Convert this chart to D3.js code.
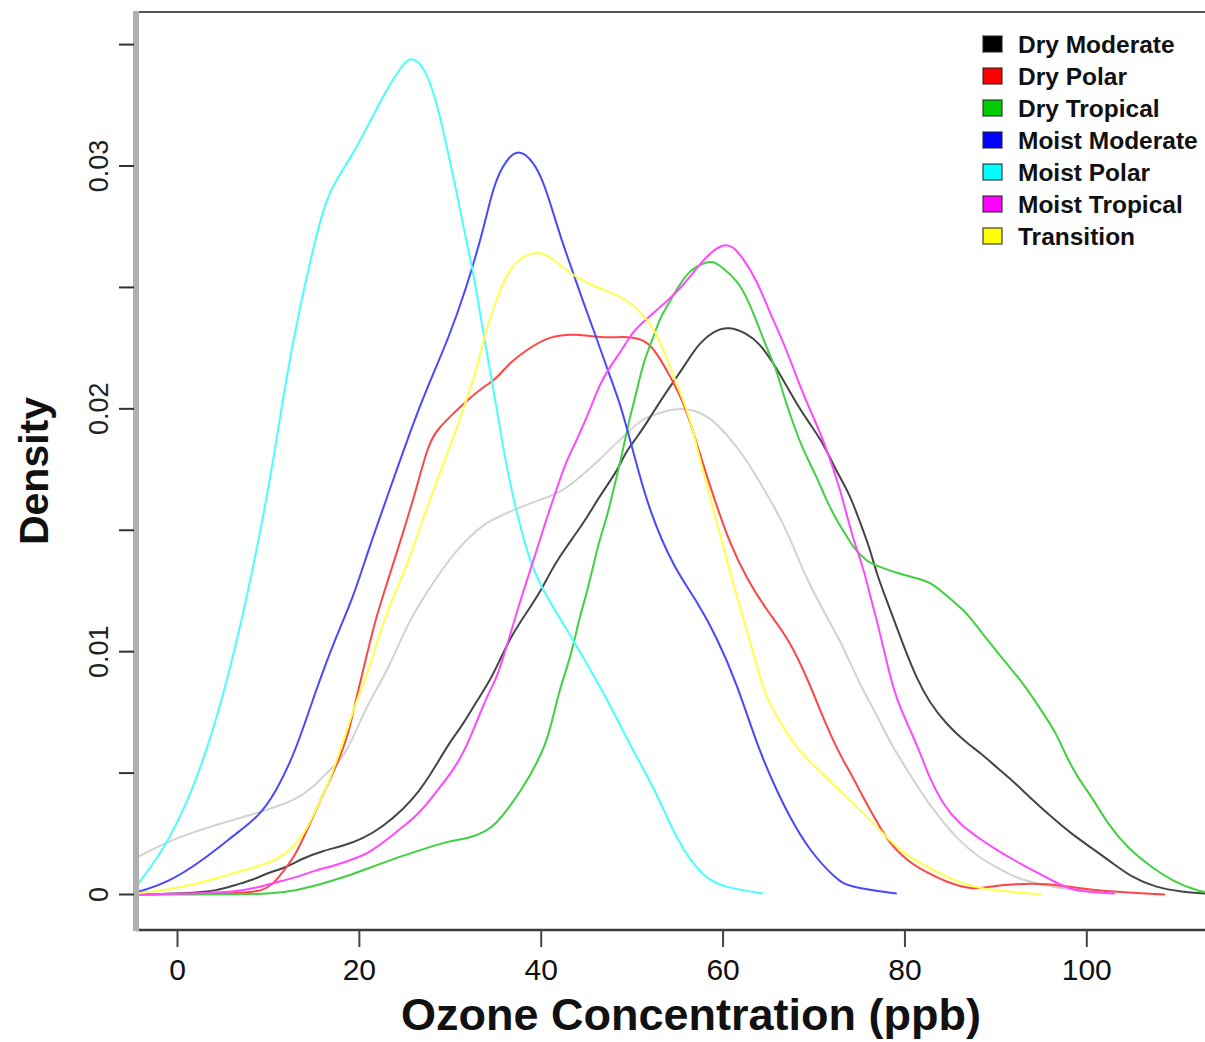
<!DOCTYPE html>
<html>
<head>
<meta charset="utf-8">
<script src="https://cdn.jsdelivr.net/npm/d3@7"></script>
<style>
  body { margin: 0; background: #fff; }
  svg { display: block; }
  text { font-family: "Liberation Sans", Arial, sans-serif; }
</style>
</head>
<body>
<div id="chart"></div>
<script>
// series names (legend order) and the unlabelled overall curve
var names = ["Dry Moderate", "Dry Polar", "Dry Tropical", "Moist Moderate", "Moist Polar", "Moist Tropical", "Transition"]
var xTicks = [0, 20, 40, 60, 80, 100]
var yTicks = [0, 0.005, 0.01, 0.015, 0.02, 0.025, 0.03, 0.035]
var yLabels = [0, 0.01, 0.02, 0.03]

// [ozone ppb, density]
var dryModerate = [[-4.6,0],[0.9,0.00004],[4.5,0.00016],[6.4,0.0004],[8.3,0.0006],[10,0.0009],[11.9,0.0011],[13.8,0.0015],[16,0.0018],[18.2,0.002],[20.4,0.0023],[22.6,0.0028],[24.8,0.0035],[26.5,0.0042],[28.1,0.0051],[29.8,0.0062],[31.4,0.007],[32.8,0.0079],[34.2,0.0087],[35.4,0.0096],[36.5,0.0105],[38,0.0114],[39.8,0.0124],[40.9,0.0132],[42,0.0139],[43.5,0.0147],[45,0.0155],[46.4,0.0164],[48.3,0.0174],[49.4,0.0183],[50.5,0.0188],[51.9,0.0196],[53.4,0.0205],[54.9,0.0213],[56.3,0.0221],[57.4,0.0227],[58.9,0.0232],[60.7,0.0234],[62.6,0.0231],[64,0.0227],[65.5,0.0219],[66.6,0.0212],[68.1,0.0202],[69.5,0.0194],[71,0.0186],[72.5,0.0174],[73.9,0.0165],[75,0.0154],[76.1,0.0143],[76.9,0.0132],[78,0.0121],[79.1,0.011],[80.2,0.0099],[81.3,0.0089],[82.7,0.0079],[84.6,0.007],[86.6,0.0063],[88.4,0.0058],[90.2,0.0052],[92.1,0.0046],[94,0.0039],[96.1,0.0032],[98.3,0.0025],[100.6,0.0019],[102.8,0.0013],[105,0.0007],[107.5,0.0003],[110.5,0.0001],[113,0.00004]]
var dryPolar = [[-4.6,0],[5.7,0.00004],[9.7,0.0001],[11.1,0.0007],[13,0.0016],[14.4,0.0028],[15.5,0.0037],[16.6,0.0046],[17.7,0.0055],[18.8,0.0066],[19.6,0.008],[20.4,0.0092],[21.8,0.0114],[23.2,0.013],[24.8,0.0149],[26.2,0.0166],[27.6,0.0186],[28.7,0.0192],[30.3,0.0198],[31.7,0.0203],[33.6,0.0209],[35,0.0212],[36.5,0.0219],[38.7,0.0225],[40.9,0.023],[43.9,0.0231],[46.8,0.0229],[49.7,0.023],[51.6,0.0228],[52.7,0.0223],[54.1,0.0214],[55.6,0.0203],[56.7,0.0191],[57.8,0.0177],[59.3,0.016],[60.7,0.0145],[62.6,0.013],[64.8,0.0117],[67.3,0.0105],[69.5,0.0087],[71.4,0.0069],[73.2,0.0055],[73.9,0.0051],[75.4,0.004],[76.9,0.003],[78.3,0.0021],[80.2,0.0014],[82.4,0.0009],[84.6,0.0005],[87.5,0.0002],[88.8,0.0003],[92.1,0.00045],[95.7,0.00045],[98.3,0.0003],[102,0.00012],[108.6,0]]
var dryTropical = [[-4.6,0],[6.4,0],[10.5,0.00004],[13,0.00016],[16,0.00045],[18.2,0.0007],[20.4,0.001],[22.6,0.0013],[24.8,0.0016],[27.3,0.0019],[29.8,0.0022],[32,0.0023],[33.9,0.0026],[35,0.0029],[36.5,0.0036],[38,0.0044],[39.5,0.0054],[40.6,0.0063],[41.3,0.0073],[42,0.0084],[42.8,0.0093],[43.5,0.0102],[44.2,0.0114],[45,0.0124],[45.7,0.0135],[46.4,0.0146],[47.2,0.0155],[47.9,0.0166],[49,0.0183],[49.7,0.0196],[50.5,0.0207],[51.2,0.0219],[52.3,0.0229],[53,0.0237],[54.1,0.0244],[55.2,0.0251],[56.3,0.0257],[57.8,0.026],[58.9,0.0261],[60,0.0258],[61.5,0.0253],[62.6,0.0246],[63.7,0.0236],[64.8,0.0225],[65.9,0.0216],[66.6,0.0206],[67.7,0.0194],[68.8,0.0183],[70.3,0.0172],[71.4,0.0162],[72.5,0.0154],[73.7,0.0147],[74.3,0.0143],[75.8,0.0137],[77.2,0.0135],[79.4,0.0132],[81.6,0.013],[83.1,0.0128],[84.9,0.0122],[86.8,0.0116],[88.2,0.0109],[89.7,0.0102],[91.2,0.0095],[93,0.0087],[94.8,0.0077],[96.7,0.0066],[97.6,0.0058],[99,0.0048],[100.6,0.004],[102.3,0.0029],[104.5,0.0019],[107.2,0.0011],[109.7,0.0005],[112.2,0.00016],[113,0.0001]]
var moistModerate = [[-4.4,0.0001],[-1,0.0005],[2.75,0.0014],[6.4,0.0025],[8.9,0.0032],[10.8,0.0042],[13,0.0059],[15.2,0.0084],[17.4,0.0106],[19.3,0.0122],[21,0.0142],[22.9,0.0162],[25.9,0.0194],[27.6,0.021],[29.8,0.0229],[31.7,0.0249],[33.6,0.0273],[34.8,0.0293],[36.2,0.0303],[37.6,0.0307],[39.1,0.0302],[40.2,0.0294],[41.3,0.0281],[42.2,0.027],[43.5,0.0256],[45,0.024],[46.1,0.0229],[47.3,0.0216],[48.6,0.0203],[49.5,0.0191],[50.5,0.0177],[51.9,0.0158],[54.5,0.0135],[57.1,0.0121],[59.3,0.0106],[61.5,0.0087],[63.7,0.0062],[65.5,0.0046],[67.3,0.0032],[69.5,0.0018],[72.5,0.0006],[73.9,0.0003],[79.1,0.00004]]
var moistPolar = [[-4.3,0.00045],[-1,0.0021],[2.75,0.0052],[6.4,0.01],[10,0.0165],[11.9,0.0212],[13.3,0.0239],[14.9,0.0266],[16.3,0.0286],[17.4,0.0294],[19.3,0.0305],[21,0.0317],[22.9,0.0331],[24.8,0.0342],[25.6,0.0345],[27,0.0342],[28.4,0.0328],[29.5,0.031],[30.6,0.0291],[31.7,0.027],[32.5,0.0257],[33.6,0.0232],[34.7,0.0209],[35.8,0.0184],[36.9,0.0163],[38.7,0.0137],[40.2,0.0125],[43.5,0.0105],[47.2,0.0081],[50.1,0.0059],[52.7,0.0042],[54.9,0.0022],[57.8,0.0007],[60,0.0003],[64.4,0.00004]]
var moistTropical = [[-4.6,0],[1.65,0.00004],[6.4,0.0001],[8.9,0.0003],[10.8,0.0005],[13,0.0007],[15.2,0.001],[17.4,0.0012],[19.6,0.0015],[21,0.0017],[23.2,0.0023],[24.8,0.0028],[26.5,0.0033],[28.4,0.0042],[30.3,0.0051],[31.7,0.006],[33.1,0.0073],[34.2,0.0083],[35.1,0.0089],[36.2,0.0102],[37.6,0.012],[39.1,0.0137],[40.6,0.0155],[41.7,0.0167],[42.8,0.0179],[43.9,0.0187],[45.3,0.0199],[46.4,0.021],[47.5,0.0217],[49,0.0225],[50.1,0.0232],[51.6,0.0237],[53.4,0.0243],[55.2,0.0249],[57.1,0.0258],[58.5,0.0264],[60,0.0268],[61.1,0.0267],[62.2,0.0262],[63.7,0.0253],[65.1,0.024],[66.2,0.0231],[67.3,0.0221],[68.4,0.021],[69.5,0.02],[70.6,0.0191],[71.7,0.018],[72.8,0.0168],[74.3,0.0146],[75.4,0.0135],[76.1,0.0124],[76.9,0.0113],[77.6,0.0102],[78.3,0.0091],[79.1,0.008],[80.9,0.0065],[81.6,0.0059],[82.7,0.0048],[84.2,0.0037],[86,0.0029],[88.2,0.0023],[90.2,0.0018],[92.1,0.0014],[94,0.001],[96.1,0.0006],[97.6,0.0003],[99.4,0.00012],[103.1,0.00004]]
var transition = [[-4.6,0.00004],[0.9,0.0003],[4.5,0.0007],[8.3,0.0011],[10.8,0.0014],[12.7,0.0019],[14.1,0.0026],[15.2,0.0035],[16.3,0.0043],[17.4,0.0054],[18.5,0.0066],[19.6,0.0079],[21,0.0092],[22.6,0.0112],[24,0.0125],[25.4,0.0137],[27,0.0155],[28.4,0.0169],[29.8,0.0183],[30.6,0.0191],[32,0.0206],[33.1,0.0219],[33.9,0.0232],[34.8,0.0242],[36.2,0.0256],[37.6,0.0262],[39.5,0.0265],[40.9,0.0263],[42.4,0.0258],[43.9,0.0254],[46.1,0.025],[48.3,0.0247],[50.1,0.0243],[51.6,0.0237],[52.7,0.0231],[53.8,0.0221],[54.9,0.021],[56,0.02],[56.7,0.0191],[57.4,0.018],[58.2,0.0169],[59.3,0.0153],[60,0.0144],[61.1,0.0128],[62.2,0.0114],[63.3,0.01],[64.4,0.0084],[65.9,0.0073],[68.1,0.006],[70.3,0.0052],[72.5,0.0044],[74.7,0.0036],[76.9,0.0028],[79.1,0.0019],[81.6,0.0013],[84.6,0.0007],[87.5,0.0003],[90.2,0.00016],[95,0]]
var allData = [[-4.6,0.0015],[-1,0.0022],[2.75,0.0027],[6.4,0.0031],[10,0.0035],[13,0.0039],[14.9,0.0044],[16.6,0.0051],[18.2,0.0056],[19.6,0.0067],[21,0.0079],[22.6,0.0089],[24,0.01],[25.4,0.0112],[27,0.0122],[28.4,0.013],[30.3,0.014],[32,0.0147],[33.9,0.0153],[35,0.0155],[37.3,0.0159],[40.2,0.0163],[42.4,0.0166],[44.6,0.0173],[46.4,0.0179],[48.3,0.0186],[49.7,0.0191],[51.2,0.0196],[52.7,0.0198],[54.5,0.02],[56.3,0.02],[57.8,0.0198],[59.3,0.0194],[60.7,0.0188],[62.2,0.0181],[63.7,0.0172],[65.1,0.0163],[66.6,0.0153],[68.1,0.014],[69.2,0.013],[71,0.0117],[72.8,0.0105],[73.9,0.0096],[75.4,0.0084],[76.9,0.0074],[78.3,0.0063],[79.8,0.0054],[81.6,0.0043],[83.5,0.0033],[85.7,0.0023],[88.2,0.0015],[90.2,0.0011],[92.1,0.0007],[94,0.0005],[96.8,0.00025],[101.2,0.0001]]

var series = [dryModerate, dryPolar, dryTropical, moistModerate, moistPolar, moistTropical, transition]
var keyColors = ["#000000", "#ff0000", "#00cd00", "#0000ff", "#00ffff", "#ff00ff", "#ffff00"]
var lineColors = ["#454545", "#ff4545", "#40d040", "#4848ff", "#48ffff", "#ff48ff", "#ffff48"]

var W = 1205, H = 1042

var svg = d3.select("#chart")
  .append("svg")
  .attr("width", W)
  .attr("height", H)

var x = d3.scaleLinear().domain([-4.565, 113]).range([136, 1205])
var y = d3.scaleLinear().domain([0, 0.03]).range([894.5, 166])

var plotTop = 12, plotBottom = 930, plotLeft = 136

svg.append("clipPath").attr("id", "clip")
  .append("rect")
  .attr("x", plotLeft).attr("y", plotTop)
  .attr("width", W - plotLeft).attr("height", plotBottom - plotTop)

// smooth the hand-read points a little
var line = d3.line()
  .x(d => x(d[0]))
  .y(d => y(d[1]))
  .curve(d3.curveBasis)

var g = svg.append("g").attr("clip-path", "url(#clip)")

// overall curve, grey
g.append("path")
  .attr("d", line(allData))
  .attr("fill", "none")
  .attr("stroke", "#d2d2d2")
  .attr("stroke-width", 2)

series.forEach((s, i) => {
  g.append("path")
    .attr("d", line(s))
    .attr("fill", "none")
    .attr("stroke", lineColors[i])
    .attr("stroke-width", 2)
})

// frame
svg.append("line")
  .attr("x1", plotLeft).attr("y1", plotTop)
  .attr("x2", W).attr("y2", plotTop)
  .style("stroke", "#555").style("stroke-width", 2)
svg.append("line")
  .attr("x1", plotLeft).attr("y1", plotBottom)
  .attr("x2", W).attr("y2", plotBottom)
  .style("stroke", "#3a3a3a").style("stroke-width", 2.5)
svg.append("rect")
  .attr("x", 133).attr("y", plotTop - 1)
  .attr("width", 6).attr("height", plotBottom - plotTop + 2)
  .style("fill", "#b0b0b0")

// y axis ticks
yTicks.forEach(t => {
  svg.append("line")
    .attr("x1", 119).attr("y1", y(t))
    .attr("x2", 134).attr("y2", y(t))
    .style("stroke", "#333").style("stroke-width", 2)
})
yLabels.forEach(t => {
  svg.append("text")
    .attr("transform", "translate(108," + y(t) + ") rotate(-90)")
    .attr("text-anchor", "middle")
    .style("font-size", "27px")
    .attr("fill", "#222")
    .text(t === 0 ? "0" : d3.format(".2f")(t))
})

// x axis ticks
xTicks.forEach(t => {
  svg.append("line")
    .attr("x1", x(t)).attr("y1", plotBottom)
    .attr("x2", x(t)).attr("y2", 947)
    .style("stroke", "#444").style("stroke-width", 2)
  svg.append("text")
    .attr("x", x(t))
    .attr("y", 980)
    .attr("text-anchor", "middle")
    .style("font-size", "30px")
    .attr("fill", "#111")
    .text(t)
})

// axis titles
svg.append("text")
  .attr("x", 691)
  .attr("y", 1030)
  .attr("text-anchor", "middle")
  .style("font-size", "45px")
  .style("font-weight", "bold")
  .attr("fill", "#111")
  .text("Ozone Concentration (ppb)")

svg.append("text")
  .attr("transform", "translate(48,471) rotate(-90)")
  .attr("text-anchor", "middle")
  .style("font-size", "41px")
  .style("font-weight", "bold")
  .attr("fill", "#111")
  .text("Density")

// legend
var legend = svg.append("g")
names.forEach((n, i) => {
  var cy = 44 + i * 32
  legend.append("rect")
    .attr("x", 983).attr("y", cy - 8)
    .attr("width", 19).attr("height", 16)
    .style("fill", keyColors[i])
    .style("stroke", "#222").style("stroke-opacity", 0.7)
    .style("stroke-width", 1.5)
  legend.append("text")
    .attr("x", 1018)
    .attr("y", cy + 8.5)
    .style("font-size", "24.5px")
    .style("font-weight", "bold")
    .attr("fill", "#111")
    .text(n)
})
</script>
</body>
</html>
